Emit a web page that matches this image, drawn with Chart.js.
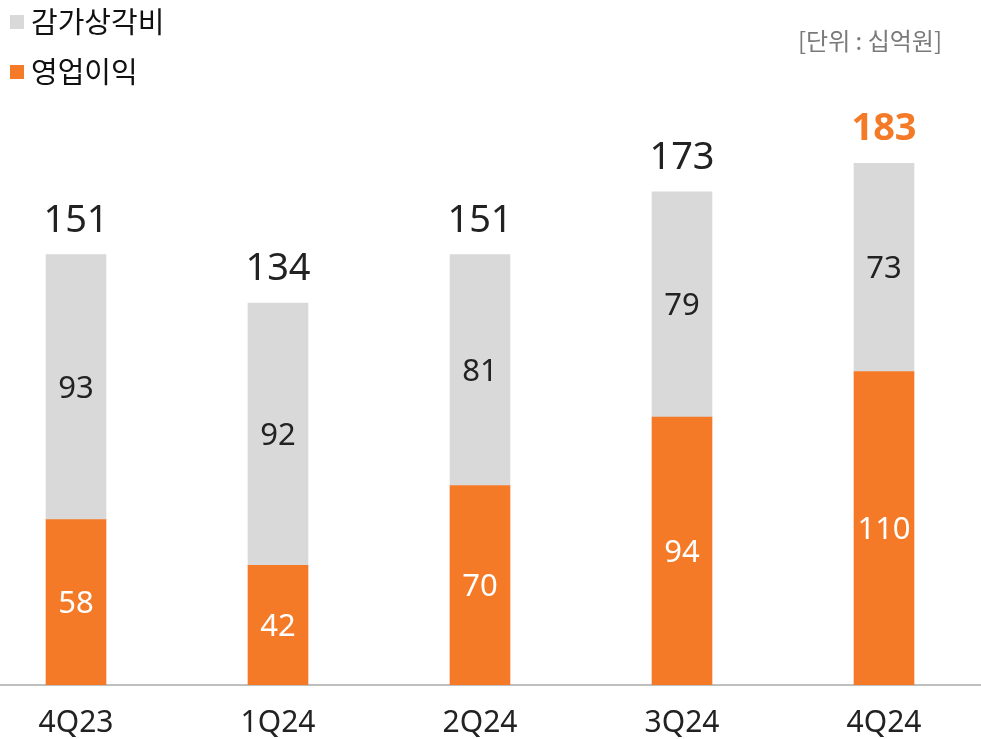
<!DOCTYPE html>
<html>
<head>
<meta charset="utf-8">
<script src="https://cdn.jsdelivr.net/npm/chart.js@4.4.1/dist/chart.umd.min.js"></script>
<style>
  html, body { margin: 0; padding: 0; background: #fff; overflow: hidden; }
  /* canvas is a bit wider than the window so the category slots line up */
  #wrap { position: absolute; left: -25px; top: 0; width: 1010px; height: 739px; }
</style>
</head>
<body>
<div id="wrap"><canvas id="chart"></canvas></div>
<script>
// Chart data
const quarters = ['4Q23', '1Q24', '2Q24', '3Q24', '4Q24'];
const operatingProfit = [58, 42, 70, 94, 110];
const depreciation = [93, 92, 81, 79, 73];
const totals = [151, 134, 151, 173, 183];
const unitLabel = '[단위 : 십억원]';

const ORANGE = '#F47A28';
const GRAY = '#D9D9D9';
const KR_FONT = '"Noto Sans CJK KR", "Noto Sans", sans-serif';
const NUM_FONT = '"Noto Sans", "Noto Sans CJK KR", sans-serif';
const OFFSET = 25; // canvas shifted left by this much

// Draw values inside segments and totals on top
const labelPlugin = {
    id: 'labels',
    afterDatasetsDraw(chart) {
        const ctx = chart.ctx;
        ctx.save();
        ctx.textAlign = 'center';
        chart.data.datasets.forEach((ds, di) => {
            const meta = chart.getDatasetMeta(di);
            meta.data.forEach((bar, i) => {
                const mid = (bar.y + bar.base) / 2 + 2;
                ctx.font = '31px ' + NUM_FONT;
                ctx.fillStyle = di === 0 ? '#ffffff' : '#222222';
                ctx.textBaseline = 'middle';
                ctx.fillText(ds.data[i], bar.x, mid);
            });
        });
        const topMeta = chart.getDatasetMeta(1);
        topMeta.data.forEach((bar, i) => {
            const last = i === totals.length - 1;
            ctx.font = (last ? 'bold ' : '') + '38px ' + NUM_FONT;
            ctx.fillStyle = last ? ORANGE : '#222222';
            ctx.textBaseline = 'alphabetic';
            ctx.fillText(totals[i], bar.x, bar.y - 23);
        });
        ctx.restore();
    }
};

// Legend stacked top-left, unit label top-right
const legendPlugin = {
    id: 'customLegend',
    afterDraw(chart) {
        const ctx = chart.ctx;
        ctx.save();
        const items = [
            { text: chart.data.datasets[1].label, color: GRAY, y: 22 },
            { text: chart.data.datasets[0].label, color: ORANGE, y: 72 }
        ];
        items.forEach(item => {
            ctx.fillStyle = item.color;
            ctx.fillRect(OFFSET + 10, item.y - 7, 14, 14);
            ctx.fillStyle = '#111111';
            ctx.font = '29px ' + KR_FONT;
            ctx.textAlign = 'left';
            ctx.textBaseline = 'middle';
            ctx.fillText(item.text, OFFSET + 31, item.y);
        });
        ctx.fillStyle = '#7A7A7A';
        ctx.font = '24px ' + KR_FONT;
        ctx.textAlign = 'right';
        ctx.fillText(unitLabel, OFFSET + 942, 41);
        ctx.restore();
    }
};

new Chart(document.getElementById('chart'), {
    type: 'bar',
    data: {
        labels: quarters,
        datasets: [{
            label: '영업이익',
            data: operatingProfit,
            backgroundColor: ORANGE,
            barThickness: 60
        }, {
            label: '감가상각비',
            data: depreciation,
            backgroundColor: GRAY,
            barThickness: 60
        }]
    },
    options: {
        responsive: true,
        maintainAspectRatio: false,
        animation: false,
        layout: { padding: { top: 115, left: 0, right: 0, bottom: 0 } },
        plugins: {
            legend: { display: false },
            tooltip: { enabled: false }
        },
        scales: {
            x: {
                stacked: true,
                grid: { display: false },
                border: { display: true, color: '#BFBFBF', width: 2 },
                ticks: {
                    color: '#222222',
                    font: { family: NUM_FONT, size: 30 },
                    padding: 12
                },
                afterFit(scale) { scale.height = 54; }
            },
            y: {
                stacked: true,
                display: false,
                min: 0,
                max: 200
            }
        }
    },
    plugins: [labelPlugin, legendPlugin]
});
</script>
</body>
</html>
